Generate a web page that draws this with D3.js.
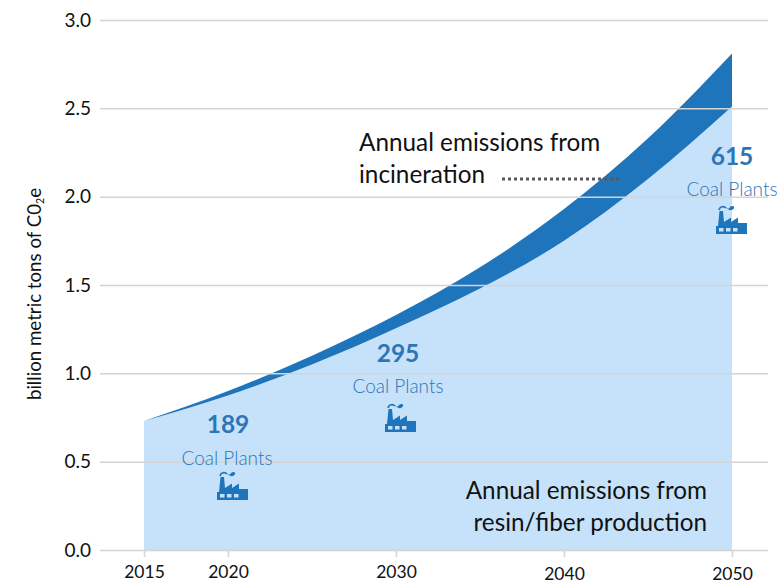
<!DOCTYPE html>
<html>
<head>
<meta charset="utf-8">
<script src="https://cdnjs.cloudflare.com/ajax/libs/d3/7.8.5/d3.min.js"></script>
<style>
html,body{margin:0;padding:0;background:#fff}
svg{display:block}
text{font-family:Lato,"Open Sans",sans-serif}
</style>
</head>
<body>
<svg id="chart" width="784" height="584"></svg>
<script>
const years = [2015, 2020, 2025, 2030, 2035, 2040, 2045, 2050];
const resinFiber = [0.73, 0.875, 1.05, 1.255, 1.48, 1.75, 2.10, 2.51];
const totalEmissions = [0.73, 0.90, 1.10, 1.33, 1.60, 1.93, 2.33, 2.81];
const yTicks = [0, 0.5, 1, 1.5, 2, 2.5, 3];
const xTicks = [2015, 2020, 2030, 2040, 2050];
const plantYears = [2020, 2030, 2050];
const plantCounts = [189, 295, 615];

const W = 784, H = 584;
const margin = {left: 144, right: 52, top: 20, bottom: 34};
const svg = d3.select("#chart");
const x = d3.scaleLinear().domain([2015, 2050]).range([margin.left, W - margin.right]);
const y = d3.scaleLinear().domain([0, 3]).range([H - margin.bottom, margin.top]);

const rows = years.map((yr, i) => ({yr, low: resinFiber[i], high: totalEmissions[i]}));
const curve = d3.curveMonotoneX;

svg.append("path").datum(rows).attr("fill", "#c5e2fa")
  .attr("d", d3.area().x(d => x(d.yr)).y0(y(0)).y1(d => y(d.low)).curve(curve));
svg.append("path").datum(rows).attr("fill", "#1f75bc")
  .attr("d", d3.area().x(d => x(d.yr)).y0(d => y(d.low)).y1(d => y(d.high)).curve(curve));

// Gridlines drawn over the areas, as in the reference
const yAxis = d3.axisLeft(y).tickValues(yTicks).tickFormat(d3.format(".1f"))
  .tickSize(-(768 - 100)).tickPadding(9);
const yG = svg.append("g").attr("transform", "translate(100,0)").call(yAxis);
yG.select(".domain").remove();
yG.selectAll(".tick line").attr("stroke", "#d4d4d4").attr("stroke-width", 1.5);
yG.selectAll(".tick text").attr("fill", "#111").attr("font-size", 19).style("font-family", "Lato");

const xAxis = d3.axisBottom(x).tickValues(xTicks).tickFormat(d3.format("d"))
  .tickSize(7).tickPadding(5);
const xG = svg.append("g").attr("transform", `translate(0,${y(0)})`).call(xAxis);
xG.select(".domain").remove();
xG.selectAll(".tick line").attr("stroke", "#d4d4d4").attr("stroke-width", 1.5);
xG.selectAll(".tick text").attr("fill", "#111").attr("font-size", 17.5).style("font-family", "Lato")
  .attr("dy", d => d >= 2040 ? "1.0em" : "0.9em");

// Y axis title
const yt = svg.append("text").attr("transform", "translate(41,294) rotate(-90)")
  .attr("text-anchor", "middle").attr("font-size", 18.7).attr("fill", "#111");
yt.append("tspan").text("billion metric tons of C0");
yt.append("tspan").text("2").attr("font-size", 10.5).attr("dy", 3);
yt.append("tspan").text("e").attr("dy", -3);

// Annotations
const note = (tx, ty, anchor, str) => svg.append("text").attr("x", tx).attr("y", ty)
  .attr("text-anchor", anchor).attr("font-size", 24.3).attr("fill", "#111").text(str);
note(359, 151, "start", "Annual emissions from");
note(359, 183, "start", "incineration");
note(707, 499, "end", "Annual emissions from");
note(707, 531, "end", "resin/fiber production");

svg.append("line").attr("x1", 502).attr("x2", 619).attr("y1", 179).attr("y2", 179)
  .attr("stroke", "#595959").attr("stroke-width", 3).attr("stroke-dasharray", "3,3");

// Coal plant callouts
const layout = [
  {numX: 228, numY: 433, labX: 227, labY: 465, iconX: 217, iconY: 471},
  {numX: 398, numY: 362, labX: 398, labY: 393, iconX: 385, iconY: 403},
  {numX: 732, numY: 165, labX: 732, labY: 196, iconX: 716, iconY: 205}
];
const blue = "#2e75b6";
plantYears.forEach((yr, i) => {
  const p = layout[i];
  svg.append("text").attr("x", p.numX).attr("y", p.numY).attr("text-anchor", "middle")
    .attr("font-size", 24.5).attr("font-weight", 700).attr("fill", blue).text(plantCounts[i]);
  svg.append("text").attr("x", p.labX).attr("y", p.labY).attr("text-anchor", "middle")
    .attr("font-size", 19).attr("font-weight", 300).attr("fill", blue).text("Coal Plants");
  const g = svg.append("g").attr("transform", `translate(${p.iconX},${p.iconY})`);
  g.append("path").attr("fill", "#1f75bc")
    .attr("d", "M0,29V21H2L3.5,6H7L8,17L15,12.5V17L22,12.5V18H31V29Z");
  g.append("path").attr("fill", "none").attr("stroke", "#1f75bc").attr("stroke-width", 1.6)
    .attr("d", "M3,5C4,1 8,1 10,3");
  g.append("path").attr("fill", "#1f75bc").attr("d", "M10,2C12,4 13,4 14,2C16,0 19,1 18,3C17,6 12,6 10,2Z");
  g.selectAll("rect.w").data([3, 10, 17]).enter().append("rect").attr("class", "w")
    .attr("x", d => d).attr("y", 23).attr("width", 4.5).attr("height", 3.5).attr("fill", "#c5e2fa");
});
</script>
</body>
</html>
